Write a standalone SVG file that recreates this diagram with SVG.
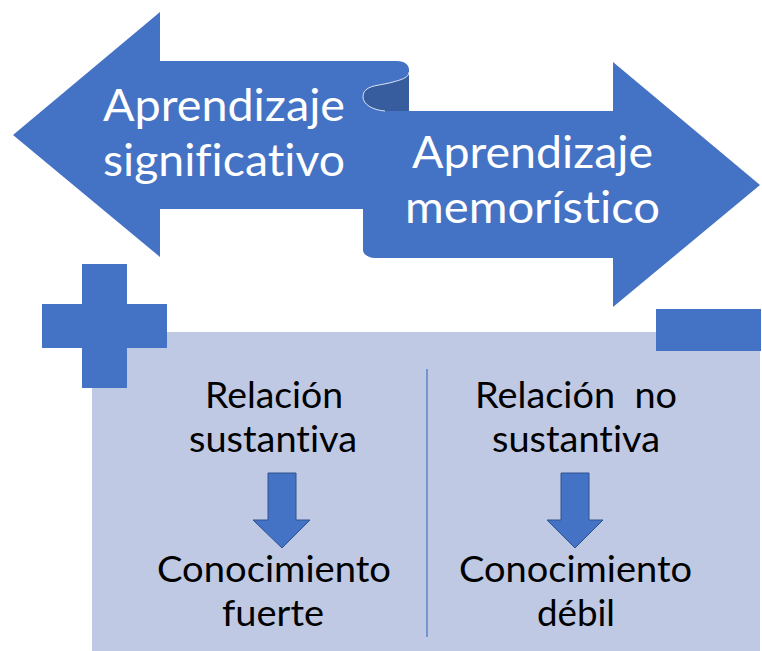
<svg xmlns="http://www.w3.org/2000/svg" width="762" height="651" viewBox="0 0 762 651">
<style>
.blue{fill:#4472C4}
.big{font-family:Lato,"Liberation Sans",sans-serif;font-size:44px;fill:#fff;text-anchor:middle;font-variant-ligatures:none}
.txt{font-family:Lato,"Liberation Sans",sans-serif;font-size:36px;fill:#000;text-anchor:middle;font-variant-ligatures:none}
.down{fill:#4472C4;stroke:#2F528F;stroke-width:1}
</style>
<rect width="762" height="651" fill="#fff"/>
<g id="ribbon">
<path class="blue" d="M13,135 L160,12 L160,61 L397,61 C405,61 409,65 409,70 L409,111 L363,111 L363,209 L160,209 L160,257 Z"/>
<path d="M409,72 C409,78 400,80 393,82 C383,85 372,85 367,89 C364,91 363,94 363,97 C363,104 372,110 385,111 L409,111 Z" fill="#375D9E"/>
<path class="blue" d="M363,97 C363,104 372,111 385,111 L613,111 L613,62 L760,185 L613,307 L613,258 L375,258 C368,258 363,254 363,250 Z"/>
<path d="M409,72 C409,78 400,80 393,82 C383,85 372,85 367,89 C364,91 363,94 363,97 C363,104 372,110 385,111" fill="none" stroke="#DDE5F3" stroke-width="1"/>
<text class="big" x="224" y="121" textLength="242" lengthAdjust="spacingAndGlyphs">Aprendizaje</text>
<text class="big" x="224" y="176" textLength="242" lengthAdjust="spacingAndGlyphs">significativo</text>
<text class="big" x="532.5" y="168" textLength="241" lengthAdjust="spacingAndGlyphs">Aprendizaje</text>
<text class="big" x="532.5" y="223" textLength="255" lengthAdjust="spacingAndGlyphs">memorístico</text>
</g>
<g id="box">
<rect x="92" y="332" width="668" height="319" fill="#BFC9E3"/>
<line x1="427" y1="369" x2="427" y2="637" stroke="#4472C4" stroke-width="1.2"/>
</g>
<g id="plus">
<path class="blue" d="M82,264 H127 V304 H167 V348 H127 V388 H82 V348 H42 V304 H82 Z"/>
</g>
<g id="minus">
<rect class="blue" x="656" y="309" width="105" height="42"/>
</g>
<g id="left-column">
<text class="txt" x="274" y="408" textLength="138" lengthAdjust="spacingAndGlyphs">Relación</text>
<text class="txt" x="273" y="452" textLength="168" lengthAdjust="spacingAndGlyphs">sustantiva</text>
<text class="txt" x="274" y="582" textLength="234" lengthAdjust="spacingAndGlyphs">Conocimiento</text>
<text class="txt" x="273" y="626" textLength="102" lengthAdjust="spacingAndGlyphs">fuerte</text>
</g>
<g id="right-column">
<text class="txt" x="576" y="408" textLength="202" lengthAdjust="spacingAndGlyphs" xml:space="preserve">Relación  no</text>
<text class="txt" x="576" y="452" textLength="168" lengthAdjust="spacingAndGlyphs">sustantiva</text>
<text class="txt" x="575.5" y="582" textLength="233" lengthAdjust="spacingAndGlyphs">Conocimiento</text>
<text class="txt" x="576" y="626" textLength="78" lengthAdjust="spacingAndGlyphs">débil</text>
</g>
<g id="connectors">
<path class="down" d="M268,473 H296 V520 H310 L282,548 L253,520 H268 Z"/>
<path class="down" d="M561,473 H589 V520 H603 L575,548 L547,520 H561 Z"/>
</g>
</svg>
